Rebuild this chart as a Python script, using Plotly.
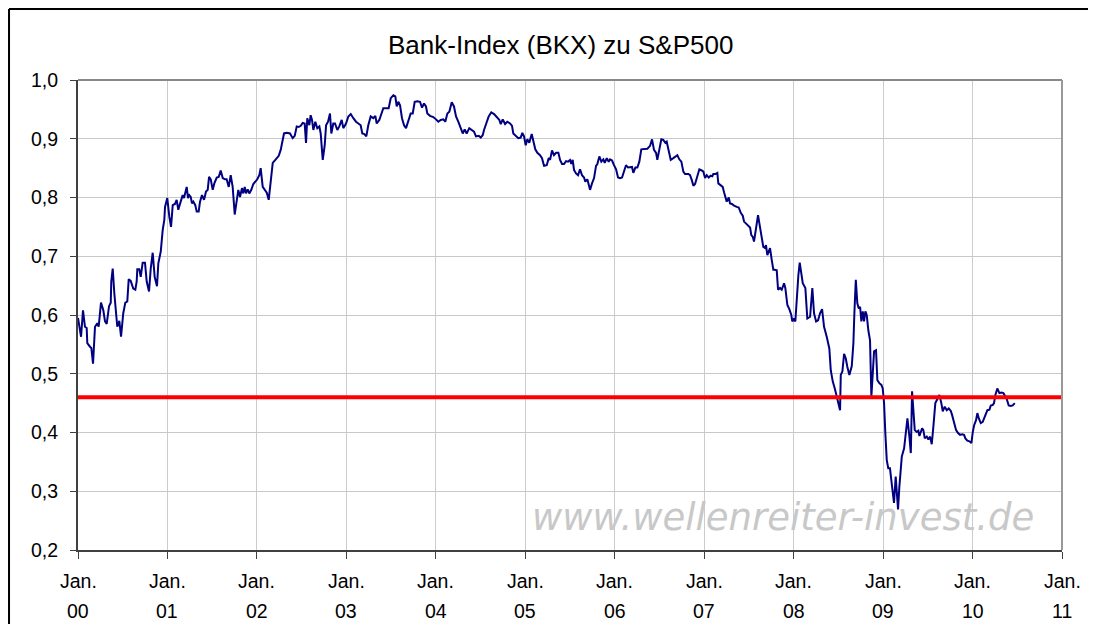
import plotly.graph_objects as go

# Time in years since Jan. 2000, and ratio BKX / S&P500
t_years = [
    0.000, 0.015, 0.034, 0.056, 0.078, 0.097, 0.104, 0.134, 0.149, 0.168, 0.190, 0.216, 0.231, 0.238,
    0.257, 0.283, 0.302, 0.321, 0.347, 0.366, 0.372, 0.388, 0.406, 0.439, 0.462, 0.481, 0.506, 0.529,
    0.551, 0.567, 0.589, 0.618, 0.641, 0.656, 0.663, 0.685, 0.701, 0.723, 0.749, 0.768, 0.794, 0.813,
    0.835, 0.857, 0.883, 0.898, 0.925, 0.947, 0.965, 0.973, 0.998, 1.021, 1.040, 1.059, 1.084, 1.103,
    1.121, 1.148, 1.170, 1.185, 1.200, 1.215, 1.230, 1.244, 1.260, 1.274, 1.289, 1.311, 1.327, 1.349,
    1.364, 1.386, 1.409, 1.431, 1.450, 1.465, 1.484, 1.506, 1.524, 1.551, 1.573, 1.595, 1.618, 1.643,
    1.662, 1.685, 1.707, 1.729, 1.752, 1.774, 1.792, 1.811, 1.833, 1.848, 1.864, 1.878, 1.897, 1.915,
    1.937, 1.960, 1.982, 2.004, 2.027, 2.042, 2.065, 2.087, 2.110, 2.132, 2.154, 2.177, 2.206, 2.244,
    2.266, 2.303, 2.333, 2.370, 2.400, 2.423, 2.445, 2.467, 2.490, 2.512, 2.534, 2.549, 2.563, 2.586,
    2.601, 2.616, 2.631, 2.653, 2.675, 2.698, 2.713, 2.736, 2.758, 2.773, 2.795, 2.817, 2.832, 2.854,
    2.873, 2.899, 2.921, 2.948, 2.966, 2.996, 3.022, 3.049, 3.078, 3.108, 3.134, 3.160, 3.178, 3.201,
    3.223, 3.245, 3.272, 3.301, 3.324, 3.339, 3.368, 3.395, 3.413, 3.435, 3.473, 3.496, 3.525, 3.547,
    3.563, 3.581, 3.600, 3.622, 3.645, 3.667, 3.693, 3.719, 3.742, 3.764, 3.793, 3.823, 3.846, 3.868,
    3.890, 3.905, 3.935, 3.972, 4.002, 4.028, 4.055, 4.084, 4.106, 4.129, 4.151, 4.178, 4.203, 4.226,
    4.251, 4.278, 4.301, 4.323, 4.345, 4.374, 4.401, 4.427, 4.449, 4.480, 4.502, 4.524, 4.539, 4.553,
    4.569, 4.591, 4.620, 4.651, 4.681, 4.710, 4.726, 4.748, 4.774, 4.799, 4.830, 4.852, 4.866, 4.897,
    4.922, 4.949, 4.967, 4.986, 5.005, 5.023, 5.045, 5.072, 5.090, 5.112, 5.135, 5.165, 5.187, 5.210,
    5.240, 5.262, 5.277, 5.299, 5.321, 5.344, 5.370, 5.389, 5.411, 5.433, 5.456, 5.478, 5.500, 5.515,
    5.530, 5.545, 5.567, 5.590, 5.612, 5.634, 5.657, 5.671, 5.694, 5.709, 5.724, 5.746, 5.769, 5.791,
    5.806, 5.828, 5.850, 5.873, 5.888, 5.911, 5.933, 5.948, 5.970, 5.992, 6.015, 6.037, 6.059, 6.082,
    6.104, 6.126, 6.149, 6.171, 6.193, 6.208, 6.231, 6.253, 6.275, 6.297, 6.320, 6.342, 6.365, 6.395,
    6.417, 6.439, 6.462, 6.476, 6.499, 6.521, 6.543, 6.566, 6.581, 6.604, 6.626, 6.655, 6.678, 6.700,
    6.722, 6.745, 6.767, 6.786, 6.823, 6.842, 6.861, 6.879, 6.898, 6.924, 6.946, 6.973, 6.991, 7.010,
    7.029, 7.051, 7.073, 7.091, 7.102, 7.125, 7.147, 7.158, 7.185, 7.207, 7.222, 7.236, 7.252, 7.275,
    7.289, 7.311, 7.334, 7.364, 7.386, 7.409, 7.431, 7.446, 7.468, 7.494, 7.513, 7.527, 7.543, 7.557,
    7.572, 7.588, 7.602, 7.617, 7.632, 7.647, 7.661, 7.680, 7.691, 7.706, 7.722, 7.736, 7.755, 7.773,
    7.789, 7.811, 7.826, 7.848, 7.867, 7.893, 7.907, 7.930, 7.952, 7.974, 7.985, 8.004, 8.019, 8.035,
    8.053, 8.068, 8.083, 8.102, 8.131, 8.153, 8.184, 8.209, 8.228, 8.251, 8.273, 8.295, 8.318, 8.340,
    8.370, 8.399, 8.415, 8.437, 8.460, 8.482, 8.500, 8.519, 8.527, 8.545, 8.564, 8.583, 8.600, 8.623,
    8.650, 8.668, 8.679, 8.695, 8.712, 8.728, 8.743, 8.757, 8.773, 8.787, 8.802, 8.817, 8.835, 8.854,
    8.869, 8.885, 8.899, 8.921, 8.936, 8.958, 8.981, 8.996, 9.011, 9.025, 9.041, 9.058, 9.077, 9.092,
    9.108, 9.122, 9.141, 9.152, 9.167, 9.182, 9.209, 9.235, 9.257, 9.272, 9.294, 9.310, 9.324, 9.339,
    9.354, 9.376, 9.394, 9.406, 9.421, 9.436, 9.450, 9.466, 9.488, 9.506, 9.525, 9.544, 9.562, 9.584,
    9.607, 9.629, 9.651, 9.667, 9.689, 9.712, 9.734, 9.756, 9.771, 9.793, 9.816, 9.838, 9.860, 9.883,
    9.905, 9.920, 9.942, 9.965, 9.987, 10.003, 10.017, 10.039, 10.054, 10.070, 10.092, 10.114, 10.129,
    10.151, 10.166, 10.189, 10.204, 10.227, 10.240, 10.255, 10.277, 10.300, 10.322, 10.345, 10.367,
    10.382, 10.404, 10.427, 10.449, 10.472,
]

ratio = [
    0.595, 0.580, 0.563, 0.608, 0.580, 0.578, 0.552, 0.546, 0.544, 0.517, 0.580, 0.586, 0.580, 0.591,
    0.621, 0.608, 0.589, 0.585, 0.615, 0.621, 0.657, 0.679, 0.637, 0.580, 0.590, 0.563, 0.603, 0.621,
    0.623, 0.661, 0.658, 0.645, 0.643, 0.657, 0.678, 0.678, 0.665, 0.689, 0.689, 0.657, 0.640, 0.679,
    0.706, 0.665, 0.649, 0.688, 0.708, 0.745, 0.762, 0.784, 0.799, 0.767, 0.750, 0.787, 0.789, 0.796,
    0.779, 0.793, 0.804, 0.799, 0.807, 0.818, 0.799, 0.804, 0.801, 0.790, 0.793, 0.787, 0.776, 0.776,
    0.793, 0.804, 0.796, 0.810, 0.813, 0.835, 0.831, 0.813, 0.824, 0.834, 0.835, 0.846, 0.833, 0.831,
    0.831, 0.818, 0.838, 0.818, 0.771, 0.799, 0.813, 0.801, 0.816, 0.807, 0.818, 0.807, 0.814, 0.807,
    0.813, 0.823, 0.827, 0.831, 0.838, 0.850, 0.818, 0.813, 0.808, 0.796, 0.830, 0.859, 0.864, 0.871,
    0.881, 0.909, 0.910, 0.909, 0.901, 0.905, 0.921, 0.920, 0.922, 0.927, 0.926, 0.893, 0.935, 0.923,
    0.940, 0.932, 0.915, 0.929, 0.918, 0.921, 0.909, 0.864, 0.889, 0.923, 0.929, 0.943, 0.909, 0.926,
    0.926, 0.915, 0.921, 0.932, 0.918, 0.926, 0.938, 0.942, 0.935, 0.929, 0.926, 0.923, 0.909, 0.908,
    0.904, 0.923, 0.938, 0.935, 0.939, 0.926, 0.932, 0.943, 0.952, 0.952, 0.952, 0.969, 0.974, 0.972,
    0.955, 0.963, 0.957, 0.935, 0.923, 0.918, 0.932, 0.943, 0.943, 0.963, 0.964, 0.963, 0.953, 0.960,
    0.955, 0.943, 0.939, 0.937, 0.933, 0.929, 0.932, 0.933, 0.929, 0.943, 0.946, 0.962, 0.955, 0.938,
    0.929, 0.918, 0.909, 0.916, 0.909, 0.918, 0.915, 0.912, 0.904, 0.905, 0.902, 0.906, 0.915, 0.921,
    0.926, 0.938, 0.945, 0.942, 0.937, 0.932, 0.925, 0.933, 0.925, 0.929, 0.926, 0.922, 0.909, 0.905,
    0.901, 0.902, 0.910, 0.904, 0.889, 0.899, 0.893, 0.908, 0.897, 0.882, 0.876, 0.872, 0.867, 0.854,
    0.855, 0.867, 0.864, 0.880, 0.872, 0.876, 0.876, 0.864, 0.857, 0.857, 0.862, 0.861, 0.864, 0.857,
    0.864, 0.847, 0.841, 0.838, 0.848, 0.838, 0.834, 0.827, 0.831, 0.821, 0.813, 0.824, 0.833, 0.854,
    0.857, 0.870, 0.861, 0.865, 0.859, 0.867, 0.861, 0.865, 0.863, 0.855, 0.848, 0.834, 0.833, 0.834,
    0.846, 0.855, 0.851, 0.851, 0.852, 0.842, 0.851, 0.851, 0.861, 0.882, 0.882, 0.882, 0.883, 0.888,
    0.899, 0.881, 0.876, 0.864, 0.881, 0.899, 0.898, 0.893, 0.895, 0.878, 0.864, 0.867, 0.870, 0.872,
    0.865, 0.861, 0.844, 0.840, 0.840, 0.838, 0.830, 0.820, 0.823, 0.838, 0.848, 0.846, 0.844, 0.833,
    0.838, 0.834, 0.837, 0.836, 0.840, 0.840, 0.842, 0.824, 0.821, 0.818, 0.809, 0.799, 0.793, 0.800,
    0.790, 0.789, 0.786, 0.784, 0.783, 0.774, 0.769, 0.759, 0.756, 0.753, 0.749, 0.736, 0.733, 0.725,
    0.742, 0.756, 0.770, 0.756, 0.742, 0.728, 0.716, 0.714, 0.719, 0.702, 0.711, 0.714, 0.694, 0.677,
    0.677, 0.676, 0.643, 0.646, 0.643, 0.654, 0.646, 0.617, 0.610, 0.600, 0.589, 0.594, 0.589, 0.631,
    0.668, 0.689, 0.671, 0.654, 0.646, 0.594, 0.597, 0.646, 0.603, 0.589, 0.591, 0.603, 0.610, 0.580,
    0.563, 0.543, 0.506, 0.487, 0.475, 0.461, 0.450, 0.438, 0.498, 0.504, 0.534, 0.526, 0.512, 0.498,
    0.513, 0.552, 0.603, 0.660, 0.620, 0.611, 0.614, 0.589, 0.606, 0.589, 0.606, 0.600, 0.574, 0.557,
    0.461, 0.509, 0.538, 0.540, 0.489, 0.484, 0.481, 0.475, 0.450, 0.399, 0.353, 0.339, 0.339, 0.319,
    0.297, 0.280, 0.325, 0.297, 0.269, 0.308, 0.359, 0.373, 0.399, 0.424, 0.393, 0.365, 0.470, 0.433,
    0.404, 0.401, 0.403, 0.394, 0.401, 0.407, 0.404, 0.390, 0.393, 0.388, 0.393, 0.380, 0.410, 0.450,
    0.457, 0.464, 0.450, 0.436, 0.444, 0.438, 0.441, 0.437, 0.430, 0.416, 0.404, 0.399, 0.396, 0.397,
    0.396, 0.390, 0.386, 0.385, 0.382, 0.401, 0.412, 0.421, 0.433, 0.424, 0.416, 0.418, 0.424,
    0.430, 0.438, 0.439, 0.446, 0.447, 0.450, 0.464, 0.475, 0.467, 0.468, 0.467, 0.462,
    0.457, 0.446, 0.445, 0.446, 0.450,
]

support_level = 0.46
title_text = "Bank-Index (BKX) zu S&P500"
watermark = "www.wellenreiter-invest.de"
year_ticks = list(range(0, 12))
year_labels = ["00", "01", "02", "03", "04", "05", "06", "07", "08", "09", "10", "11"]
y_ticks = [0.2, 0.3, 0.4, 0.5, 0.6, 0.7, 0.8, 0.9, 1.0]
y_labels = ["0,2", "0,3", "0,4", "0,5", "0,6", "0,7", "0,8", "0,9", "1,0"]

FONT = "Liberation Sans, Arial, sans-serif"
TICK_SIZE = 19.5

fig = go.Figure()
fig.add_trace(go.Scatter(
    x=t_years, y=ratio, mode="lines",
    line=dict(color="#000080", width=2),
    showlegend=False, hoverinfo="skip",
))
fig.add_trace(go.Scatter(
    x=[year_ticks[0], year_ticks[-1]], y=[support_level, support_level], mode="lines",
    line=dict(color="#ff0000", width=4),
    showlegend=False, hoverinfo="skip",
))

# page body has an 8px margin -> plot area sits at page x 78..1062, y 80..550
fig.update_layout(
    width=1080, height=616,
    margin=dict(l=70, r=26, t=72, b=74),
    paper_bgcolor="white", plot_bgcolor="white",
    font=dict(family=FONT, color="black", size=TICK_SIZE),
    showlegend=False,
)
fig.update_xaxes(
    range=[year_ticks[0], year_ticks[-1]],
    tickvals=year_ticks, ticktext=["" for _ in year_ticks],
    showgrid=True, gridcolor="#cccccc", gridwidth=1,
    showline=True, linecolor="#404040", linewidth=2,
    ticks="outside", ticklen=7, tickcolor="#404040", tickwidth=1,
    zeroline=False, fixedrange=True,
)
fig.update_yaxes(
    range=[y_ticks[0], y_ticks[-1]],
    tickvals=y_ticks, ticktext=y_labels,
    showgrid=True, gridcolor="#c8c8c8", gridwidth=1,
    showline=True, linecolor="#404040", linewidth=2,
    ticks="outside", ticklen=6, tickcolor="#404040", tickwidth=1,
    tickfont=dict(size=TICK_SIZE, family=FONT),
    ticklabelstandoff=8,
    zeroline=False, fixedrange=True,
)

# x tick labels as two-line annotations
for yv, lab in zip(year_ticks, year_labels):
    fig.add_annotation(x=yv, xref="x", y=0, yref="paper", yshift=-31,
                       text="Jan.", showarrow=False, font=dict(size=TICK_SIZE, family=FONT),
                       xanchor="center", yanchor="middle")
    fig.add_annotation(x=yv, xref="x", y=0, yref="paper", yshift=-61,
                       text=lab, showarrow=False, font=dict(size=TICK_SIZE, family=FONT),
                       xanchor="center", yanchor="middle")

# plot-area frame top/right
fig.add_shape(type="line", xref="paper", yref="paper", x0=0, x1=1, y0=1, y1=1,
              line=dict(color="#888888", width=2))
fig.add_shape(type="line", xref="paper", yref="paper", x0=1, x1=1, y0=0, y1=1,
              line=dict(color="#999999", width=2))
# outer chart border: only the top and left edges are inside the picture
fig.add_shape(type="line", xref="paper", yref="paper",
              x0=-0.0701, x1=1.2, y0=1.151, y1=1.151,
              line=dict(color="black", width=2), layer="above")
fig.add_shape(type="line", xref="paper", yref="paper",
              x0=-0.0701, x1=-0.0701, y0=-0.3, y1=1.151,
              line=dict(color="black", width=2), layer="above")

fig.add_annotation(x=0.49, y=1.0745, xref="paper", yref="paper", text=title_text,
                   showarrow=False, font=dict(size=26, family=FONT, color="black"),
                   xanchor="center", yanchor="middle")
fig.add_annotation(x=0.7165, y=0.07, xref="paper", yref="paper", text="<i>" + watermark + "</i>",
                   showarrow=False, font=dict(size=37, family="DejaVu Sans, Verdana, sans-serif", color="#c8c8c8"),
                   xanchor="center", yanchor="middle")

fig.write_html("out.html")
